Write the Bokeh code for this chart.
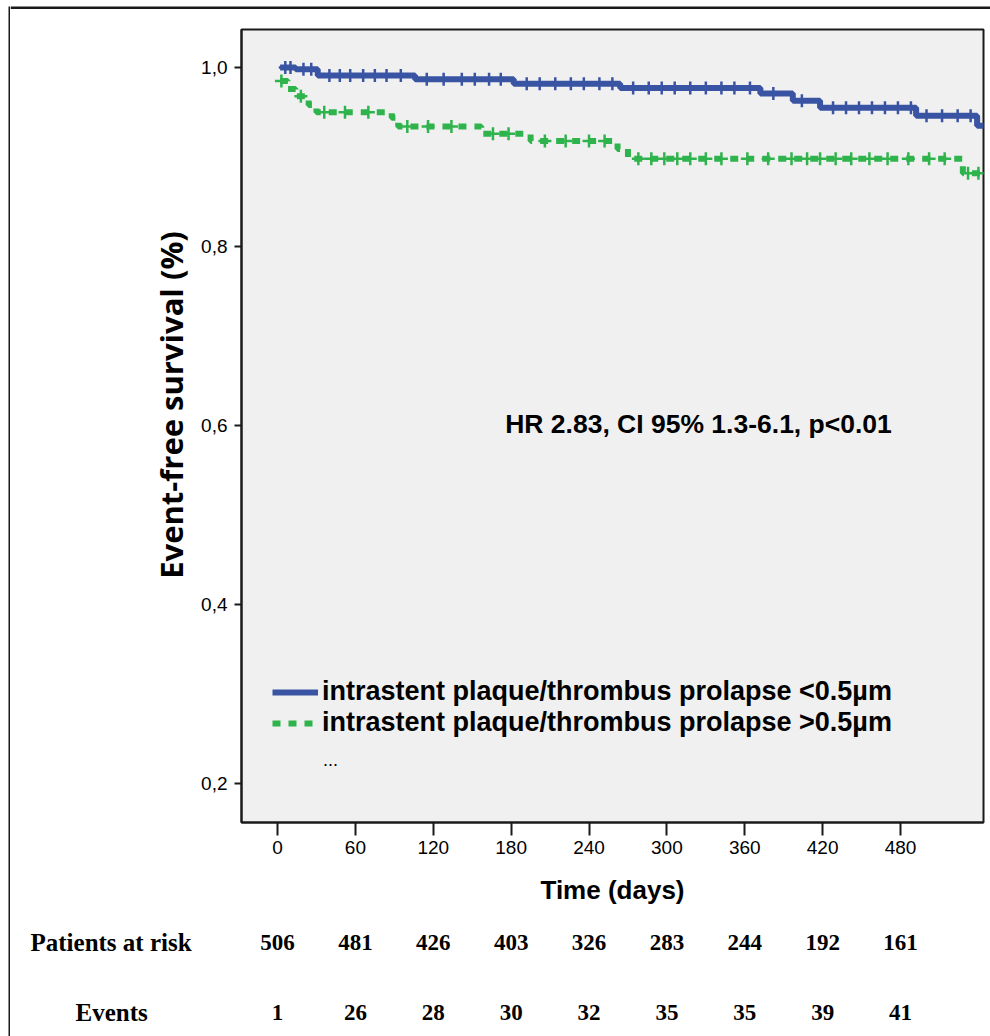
from math import pi
from bokeh.plotting import figure
from bokeh.layouts import row, column
from bokeh.models import Range1d, Label, Legend, LegendItem, FixedTicker, BoxAnnotation
from bokeh.core.properties import value
from bokeh.embed import file_html
from bokeh.resources import INLINE
import numpy as np

# ---------------- data ----------------
x_ticks = [0, 60, 120, 180, 240, 300, 360, 420, 480]
y_ticks = [0.2, 0.4, 0.6, 0.8, 1.0]
y_tick_labels = ["0,2", "0,4", "0,6", "0,8", "1,0"]

blue_times = [2, 14, 31, 106, 182, 264, 372, 397, 418, 492, 539, 548]
blue_surv = [1.0, 0.998, 0.991, 0.987, 0.982, 0.977, 0.971, 0.963, 0.955, 0.946, 0.935, 0.935]
green_times = [2, 8, 14, 24, 30, 88, 93, 157, 195, 262, 270, 528, 548]
green_surv = [0.985, 0.976, 0.968, 0.958, 0.950, 0.944, 0.934, 0.926, 0.918, 0.909, 0.898, 0.882, 0.882]

blue_censor = [6, 10, 20, 26, 40, 48, 56, 66, 75, 84, 95, 115, 128, 142, 152, 163, 172, 192, 202, 214, 226, 236, 248, 258,
               274, 286, 296, 306, 318, 330, 342, 352, 364, 382, 404, 428, 438, 448, 458, 468, 478, 488, 500, 512, 524, 534]
green_censor = [3, 18, 36, 52, 70, 100, 116, 134, 166, 178, 206, 222, 240, 252, 278, 288, 298, 308, 318, 330, 342, 362,
                378, 396, 408, 418, 430, 442, 456, 470, 486, 502, 514, 532, 540]

at_risk = [506, 481, 426, 403, 326, 283, 244, 192, 161]
events = [1, 26, 28, 30, 32, 35, 35, 39, 41]
row_names = ["Patients at risk", "Events"]

y_title = "Event-free survival (%)"
x_title = "Time (days)"
label_low = "intrastent plaque/thrombus prolapse <0.5µm"
label_high = "intrastent plaque/thrombus prolapse >0.5µm"
hr_text = "HR 2.83, CI 95% 1.3-6.1, p<0.01"

BLUE = "#3a54a4"
GREEN = "#2fb34c"
INK = "#1a1a1a"

# page geometry (pixels) shared by the pieces
X0_PX, PX_PER_DAY = 277.0, 1.298
FRAME_L, FRAME_R, FRAME_T, FRAME_B = 241, 983, 29, 822
STRIP_W, TOP_H, MID_H = 10, 20, 894
TAB_H = 1036 - TOP_H - MID_H
YLAB_W = 180
MAIN_X = STRIP_W + YLAB_W


def blank(width, height, xr, yr):
    f = figure(width=width, height=height, output_backend="svg", toolbar_location=None,
               x_axis_type=None, y_axis_type=None, x_range=xr, y_range=yr, min_border=0)
    f.frame_align = False
    f.outline_line_color = None
    f.xgrid.visible = False
    f.ygrid.visible = False
    f.background_fill_color = "white"
    f.border_fill_color = "white"
    return f


# ---------------- main figure ----------------
p = figure(width=990 - MAIN_X, height=MID_H, output_backend="svg", toolbar_location=None,
           x_range=Range1d((FRAME_L - X0_PX) / PX_PER_DAY, (FRAME_R - X0_PX) / PX_PER_DAY),
           y_range=Range1d(0.1564, 1.0425),
           min_border_left=FRAME_L - MAIN_X, min_border_right=990 - FRAME_R,
           min_border_top=FRAME_T - TOP_H, min_border_bottom=TOP_H + MID_H - FRAME_B)
p.frame_align = False
p.background_fill_color = "#f0f0f0"
p.border_fill_color = "white"
p.outline_line_color = INK
p.outline_line_width = 2
p.xgrid.visible = False
p.ygrid.visible = False

p.xaxis.ticker = FixedTicker(ticks=x_ticks)
p.yaxis.ticker = FixedTicker(ticks=y_ticks)
p.yaxis.major_label_overrides = {t: l for t, l in zip(y_ticks, y_tick_labels)}

for ax in (p.xaxis[0], p.yaxis[0]):
    ax.axis_line_color = INK
    ax.axis_line_width = 2
    ax.major_tick_line_color = INK
    ax.major_tick_line_width = 2
    ax.minor_tick_line_color = None
    ax.major_tick_in = 0
    ax.major_label_text_font = "Liberation Sans"
    ax.major_label_text_color = "black"
    ax.axis_label_text_color = "black"
    ax.axis_label_text_font_style = "bold"

p.yaxis.major_tick_out = 7
p.yaxis.major_label_standoff = 7
p.yaxis.major_label_text_font_size = "19px"

p.xaxis.major_tick_out = 13
p.xaxis.major_label_standoff = 5
p.xaxis.major_label_text_font_size = "19px"
p.xaxis.axis_label = x_title
p.xaxis.axis_label_text_font = "Liberation Sans"
p.xaxis.axis_label_text_font_size = "26px"
p.xaxis.axis_label_standoff = 18

# ---------------- curves ----------------
r_blue = p.step(blue_times, blue_surv, mode="after", line_color=BLUE, line_width=6)
r_green = p.step(green_times, green_surv, mode="after", line_color=GREEN, line_width=6, line_dash="8 8")


def surv_at(times, surv, t):
    idx = np.searchsorted(np.array(times), np.array(t), side="right") - 1
    return np.array(surv)[np.clip(idx, 0, len(surv) - 1)]


p.scatter(blue_censor, surv_at(blue_times, blue_surv, blue_censor), marker="cross", size=13,
          line_color=BLUE, line_width=2.5)
p.scatter(green_censor, surv_at(green_times, green_surv, green_censor), marker="cross", size=13,
          line_color=GREEN, line_width=2.5)

# ---------------- legend ----------------
legend = Legend(items=[LegendItem(label=label_low, renderers=[r_blue]),
                       LegendItem(label=label_high, renderers=[r_green])],
                location=(31, 84), padding=0, margin=0, spacing=-2,
                glyph_width=46, glyph_height=26, label_height=26, label_standoff=4,
                border_line_color=None, background_fill_alpha=0,
                label_text_font="Liberation Sans", label_text_font_style="bold",
                label_text_font_size="27px", label_text_color="black")
p.add_layout(legend)

p.add_layout(Label(x=35.0, y=0.2263, text="...", text_font="Liberation Sans", text_font_size="18px",
                   text_baseline="middle", text_color="black"))

p.add_layout(Label(x=(698 - X0_PX) / PX_PER_DAY, y=0.6022, text=hr_text, text_font="Liberation Sans",
                   text_font_style="bold", text_font_size="26.5px", text_align="center",
                   text_baseline="middle", text_color="black"))

# ---------------- y-axis title (own strip left of the plot) ----------------
ylab = blank(YLAB_W, MID_H, Range1d(STRIP_W, MAIN_X), Range1d(TOP_H + MID_H, TOP_H))
ylab.add_layout(Label(x=170, y=404.5, text=y_title, angle=pi / 2, text_font="Open Sans",
                      text_font_style="bold", text_font_size="31px", text_align="center",
                      text_baseline="middle", text_color="black"))

# ---------------- risk table (own figure, frame fills the canvas) ----------------
ROW_PITCH, ROW0_PX = 70.0, 942.0
tab_top = TOP_H + MID_H
t = blank(990 - STRIP_W, TAB_H,
          Range1d((STRIP_W - X0_PX) / PX_PER_DAY, (990 - X0_PX) / PX_PER_DAY),
          Range1d((tab_top + TAB_H - ROW0_PX) / ROW_PITCH, (tab_top - ROW0_PX) / ROW_PITCH))
t.text(x=[(30 - X0_PX) / PX_PER_DAY, (75 - X0_PX) / PX_PER_DAY], y=[0, 1], text=row_names,
       text_font=value("Liberation Serif"), text_font_style="bold", text_font_size="25px",
       text_align="left", text_baseline="middle", text_color="black")
t.text(x=x_ticks, y=[0] * len(x_ticks), text=[str(v) for v in at_risk],
       text_font=value("Liberation Serif"), text_font_style="bold", text_font_size="23px",
       text_align="center", text_baseline="middle", text_color="black")
t.text(x=x_ticks, y=[1] * len(x_ticks), text=[str(v) for v in events],
       text_font=value("Liberation Serif"), text_font_style="bold", text_font_size="23px",
       text_align="center", text_baseline="middle", text_color="black")

# ---------------- outer image border (top & left) ----------------
top_strip = blank(990 - STRIP_W, TOP_H, Range1d(STRIP_W, 990), Range1d(TOP_H, 0))
top_strip.add_layout(BoxAnnotation(left=STRIP_W, right=990, top=6, bottom=8.5, fill_color=INK, fill_alpha=1,
                                   line_alpha=0))

left_strip = blank(STRIP_W, 1036, Range1d(0, STRIP_W), Range1d(1036, 0))
left_strip.add_layout(BoxAnnotation(left=8, right=10, top=6, bottom=1036, fill_color=INK, fill_alpha=1,
                                    line_alpha=0))

layout = row(left_strip,
             column(top_strip, row(ylab, p, spacing=0), t, spacing=0),
             spacing=0)

open("out.html", "w").write(file_html(layout, INLINE))
